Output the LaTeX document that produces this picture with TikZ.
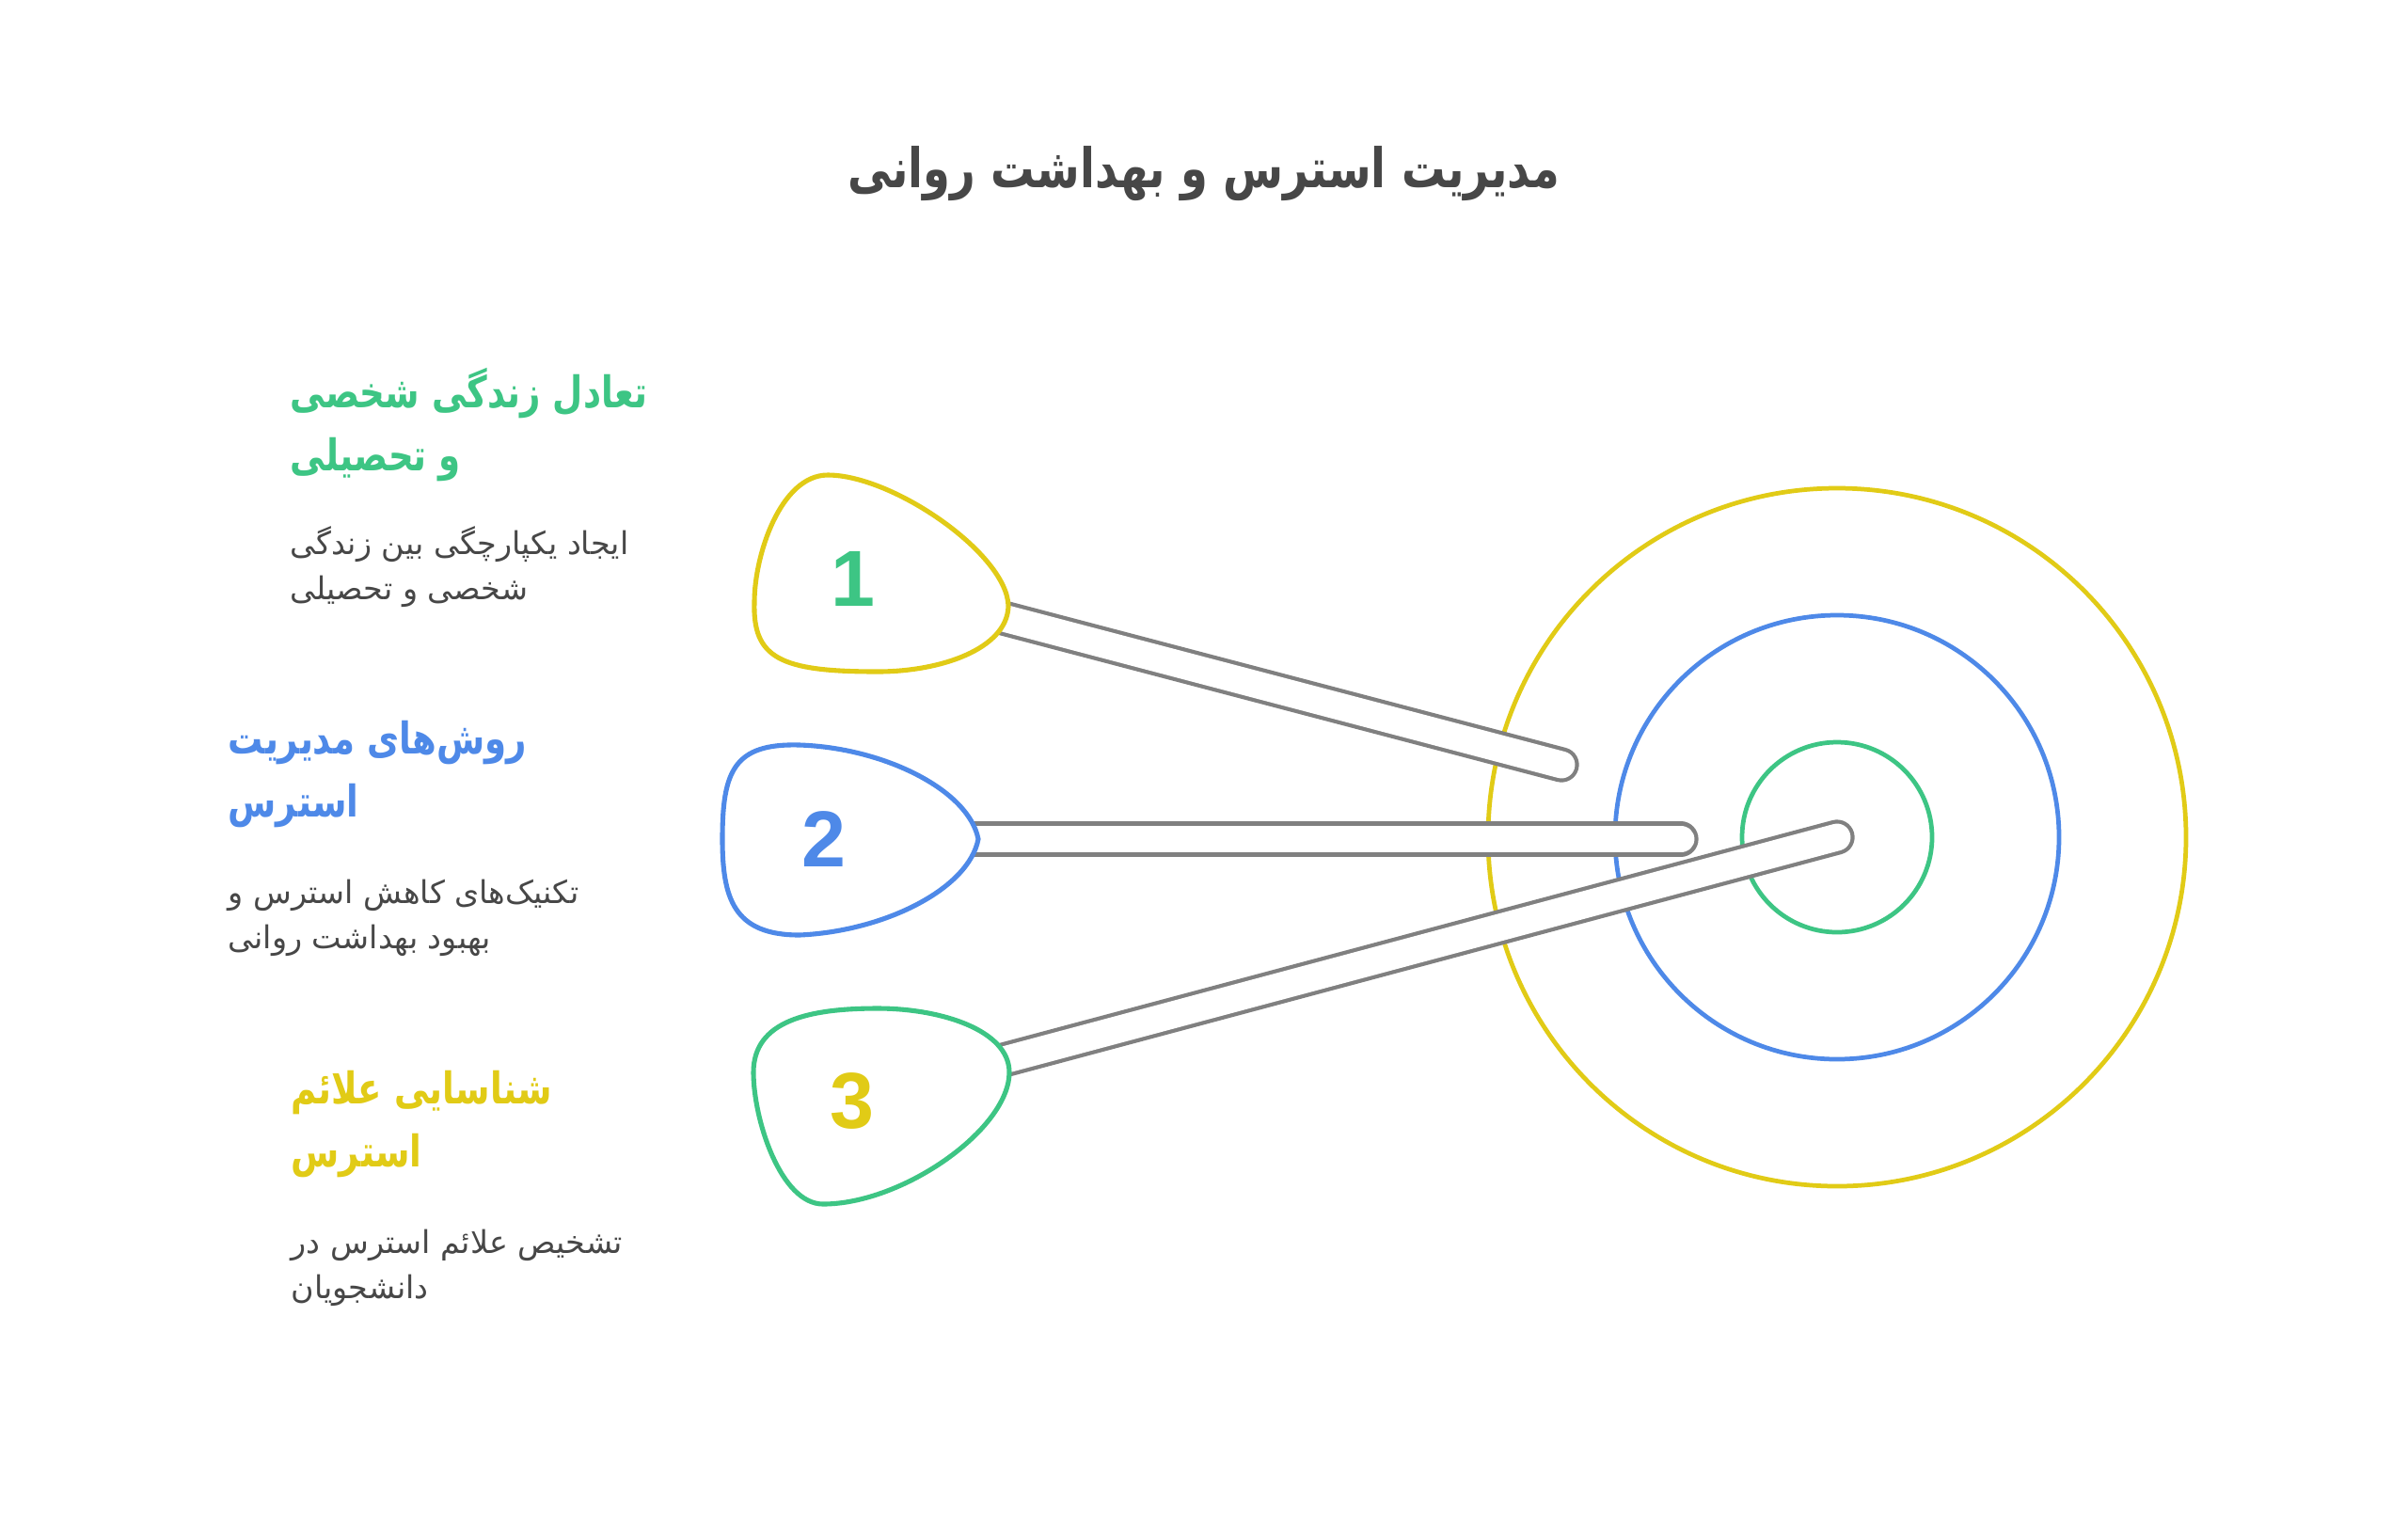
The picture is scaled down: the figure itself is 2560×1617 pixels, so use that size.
\documentclass[tikz,border=0pt]{standalone}
\usepackage{fontspec}
\usepackage{tikz}
\TeXXeTstate=1
\newfontfamily\farsifont[Script=Arabic]{DejaVu Sans}
\newfontfamily\farsihead[Script=Arabic, FakeStretch=0.8]{DejaVu Sans}
\newfontfamily\numfont{Liberation Sans}
\definecolor{tgreen}{HTML}{3DC584}
\definecolor{tblue}{HTML}{4E89E8}
\definecolor{tyellow}{HTML}{E1CB16}
\definecolor{stickgray}{HTML}{808080}
\definecolor{textgray}{HTML}{474747}

\begin{document}
\begin{tikzpicture}[x=0.01cm, y=-0.01cm,
    ring/.style={line width=1.35pt},
    stick/.style={draw=stickgray, line width=1.2pt, double=white, double distance=8.2pt, line cap=round},
    blob/.style={line width=1.45pt, fill=white},
    num/.style={inner sep=0pt, font=\numfont\bfseries\fontsize{24}{24}\selectfont},
    head/.style={anchor=base west, align=left, inner sep=0pt, font=\farsihead\bfseries\fontsize{13.2}{18.8}\selectfont},
    desc/.style={anchor=base west, align=left, inner sep=0pt, text=textgray, font=\farsifont\fontsize{9.5}{13.4}\selectfont}]

        \useasboundingbox[fill=white] (0,0) rectangle (2560,1617);

        % Title
        \node[anchor=base, inner sep=0pt, text=textgray, font=\farsihead\bfseries\fontsize{16.5}{20}\selectfont] (title) at (1280,199) {\beginR مدیریت استرس و بهداشت روانی\endR};

        % Target rings
        \coordinate (target) at (1953,890);
        \draw[ring, tyellow] (target) circle (371);
        \draw[ring, tblue] (target) circle (236);
        \draw[ring, tgreen] (target) circle (101);

        % Pins and stick ends
        \coordinate (pin1) at (907,615);
        \coordinate (pin2) at (876,892);
        \coordinate (pin3) at (906,1170);
        \coordinate (end1) at (1660,813);
        \coordinate (end2) at (1787,892);

        % Sticks
        \draw[stick] (pin1) -- (end1);
        \draw[stick] (pin2) -- (end2);
        \draw[stick] (pin3) -- (target);

        % Blobs
        \draw[blob, draw=tyellow] (1072,645) .. controls (1070,690) and (1000,714) .. (933,714)
            .. controls (830,714) and (800,700) .. (802,640)
            .. controls (802,590) and (830,505) .. (880,505)
            .. controls (950,505) and (1072,590) .. cycle;
        \draw[blob, draw=tblue] (1040,892) .. controls (1030,945) and (940,990) .. (850,994)
            .. controls (780,994) and (768,955) .. (768,892)
            .. controls (768,820) and (780,790) .. (850,792)
            .. controls (940,795) and (1030,840) .. cycle;
        \draw[blob, draw=tgreen] (1073,1140) .. controls (1073,1200) and (960,1280) .. (875,1280)
            .. controls (830,1280) and (801,1190) .. (801,1140)
            .. controls (801,1085) and (860,1072) .. (933,1072)
            .. controls (1000,1072) and (1073,1095) .. cycle;

        % Numbers
        \node[num, text=tgreen] (n1) at (pin1) {1};
        \node[num, text=tblue] (n2) at (pin2) {2};
        \node[num, text=tyellow] (n3) at (pin3) {3};

        % Labels (placed at the baseline of the last line)
        \node[head, text=tgreen] (h1) at (308,500) {\beginR تعادل زندگی شخصی\endR\\\beginR و تحصیلی\endR};
        \node[desc] (d1) at (308,637) {\beginR ایجاد یکپارچگی بین زندگی\endR\\\beginR شخصی و تحصیلی\endR};
        \node[head, text=tblue] (h2) at (242,868) {\beginR روش‌های مدیریت\endR\\\beginR استرس\endR};
        \node[desc] (d2) at (242,1008) {\beginR تکنیک‌های کاهش استرس و\endR\\\beginR بهبود بهداشت روانی\endR};
        \node[head, text=tyellow] (h3) at (309,1240) {\beginR شناسایی علائم\endR\\\beginR استرس\endR};
        \node[desc] (d3) at (309,1380) {\beginR تشخیص علائم استرس در\endR\\\beginR دانشجویان\endR};

\end{tikzpicture}
\end{document}
